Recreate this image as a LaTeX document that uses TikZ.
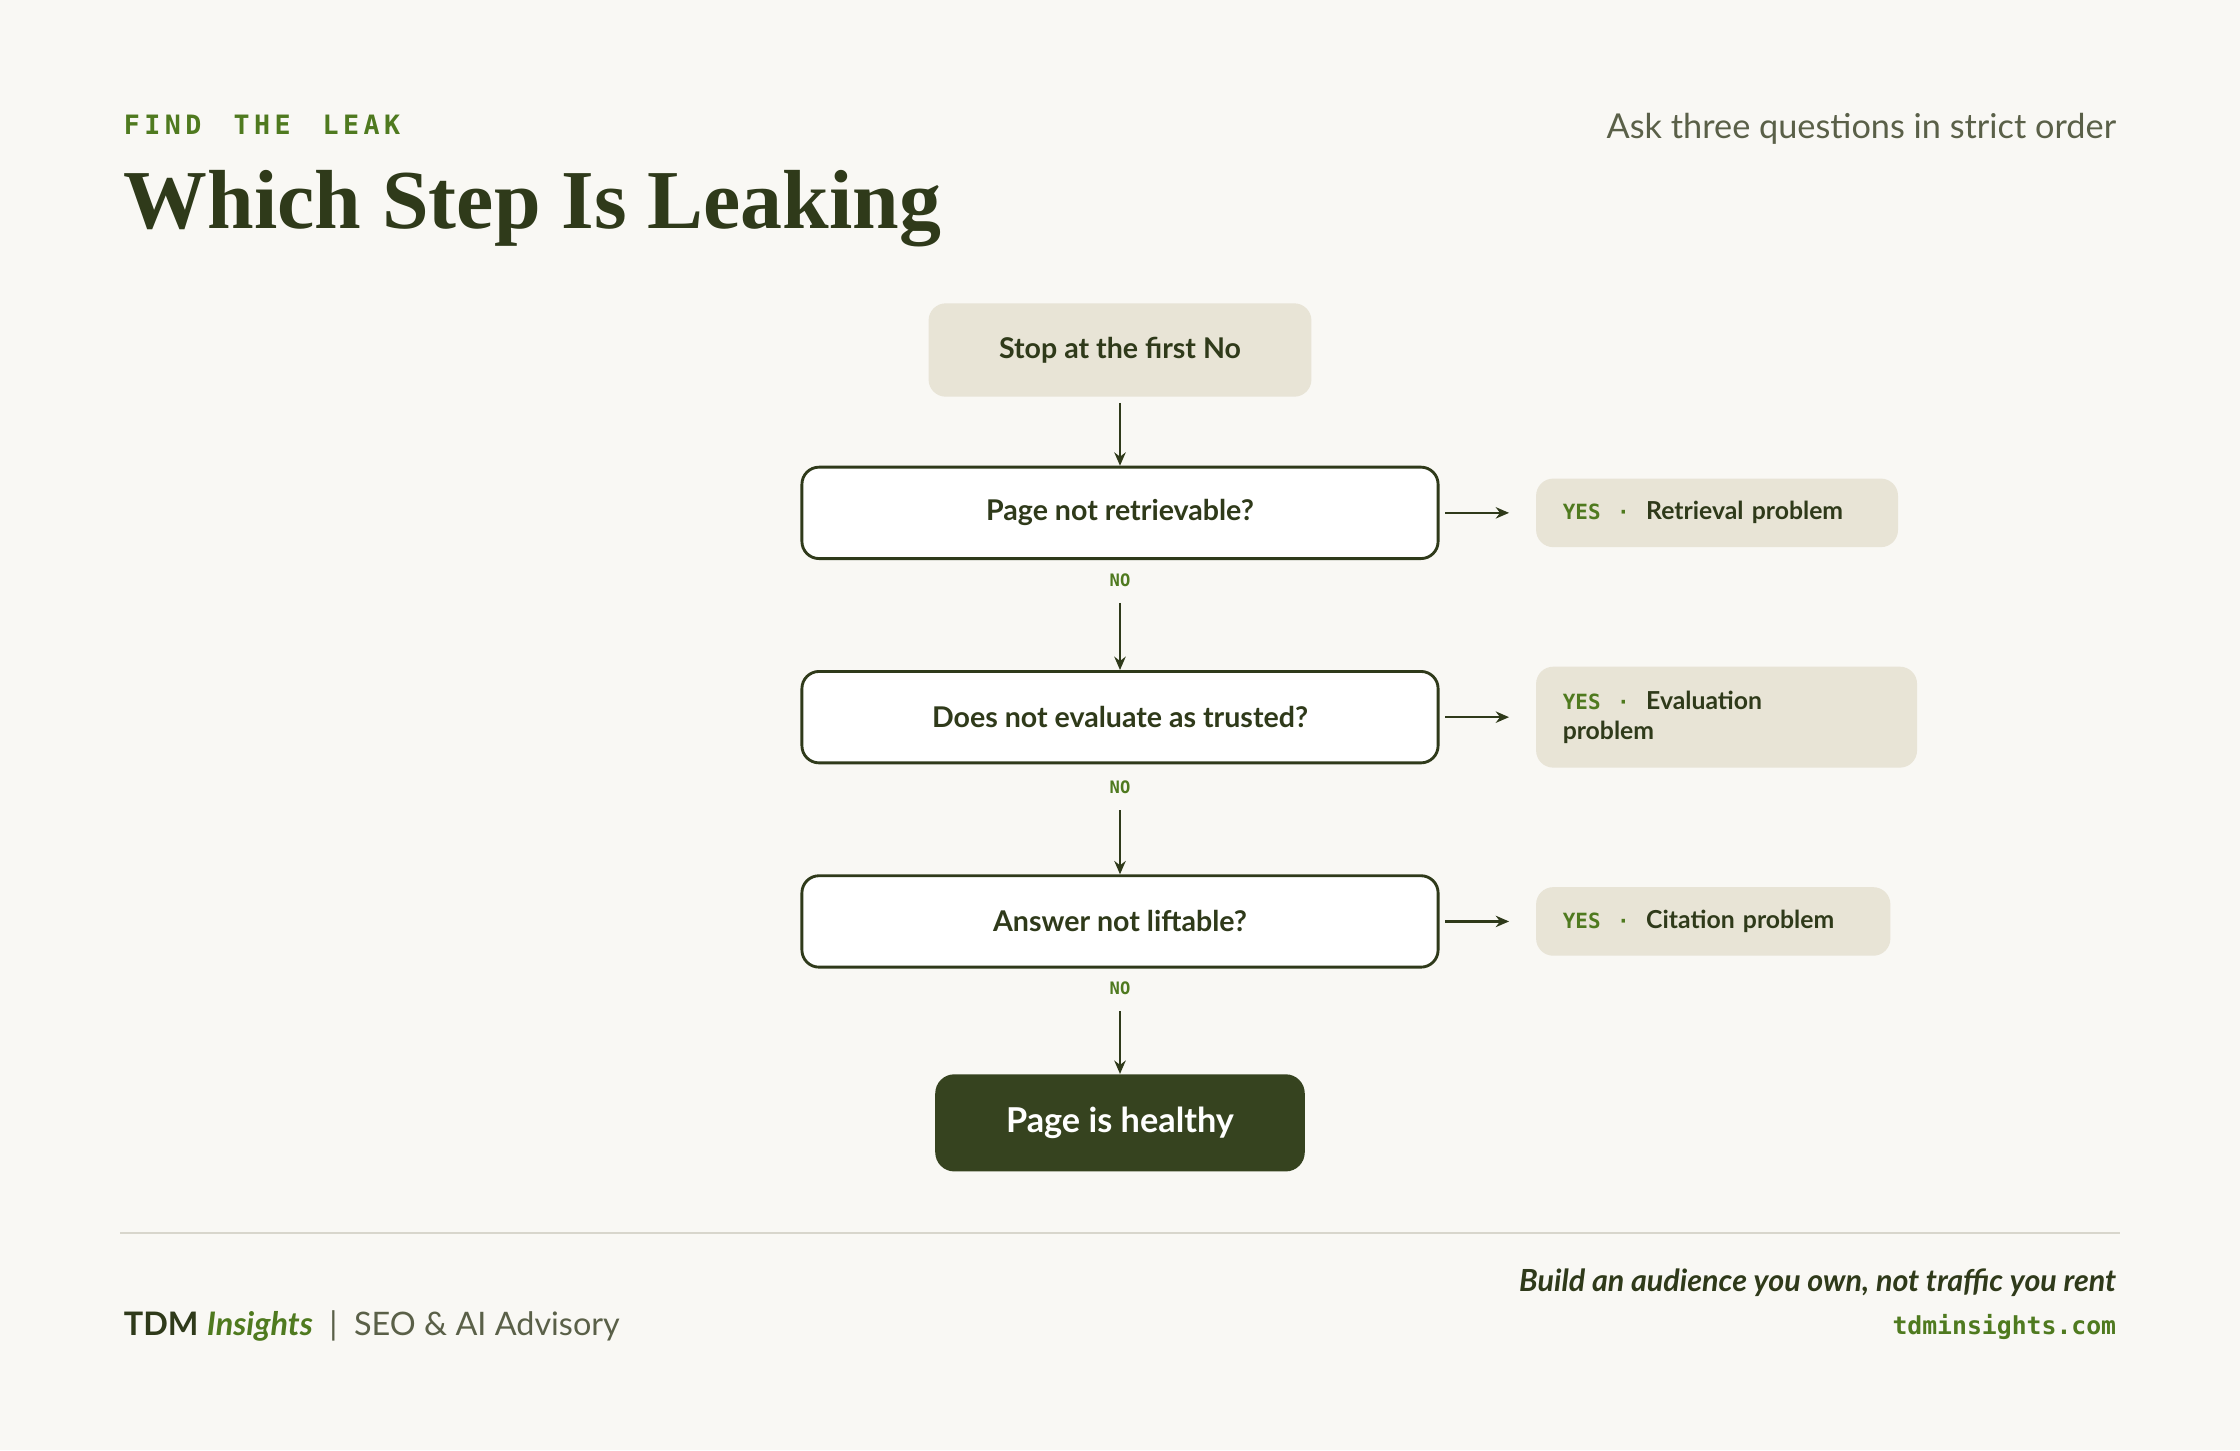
\documentclass[tikz,border=0pt]{standalone}
\usepackage{fontspec}
\setmainfont{Lato}
\newfontfamily\ser{Liberation Serif}
\newfontfamily\mon{DejaVu Sans Mono}
\usetikzlibrary{arrows.meta}
\definecolor{bg}{HTML}{F9F8F4}
\definecolor{dk}{HTML}{2F3A1A}
\definecolor{gr}{HTML}{4F7A1F}
\definecolor{sand}{HTML}{E8E4D6}
\definecolor{mut}{HTML}{5A6048}
\definecolor{fin}{HTML}{36431F}
\definecolor{rule}{HTML}{D8D6CC}
\begin{document}
\begin{tikzpicture}[x=0.75pt,y=-0.75pt,
  q/.style={draw=dk,line width=1.5pt,fill=white,rounded corners=9pt,minimum width=334pt,minimum height=48pt,font=\fontsize{15}{18}\selectfont\bfseries,text=dk},
  res/.style={fill=sand,rounded corners=9pt,anchor=west,inner xsep=14pt,font=\fontsize{13}{16}\selectfont\bfseries,text=dk,align=left},
  no/.style={font=\mon\bfseries\fontsize{9}{10}\selectfont,text=gr},
  arr/.style={-{Stealth[length=7pt,width=6pt]},line width=1.3pt,draw=dk},
  yes/.style={}]
\fill[bg] (0,0) rectangle (1568,1015);
\node[anchor=west,text=gr,font=\mon\bfseries\fontsize{14}{16}\selectfont] (kick) at (82,87) {F\,I\,N\,D\ \ T\,H\,E\ \ L\,E\,A\,K};
\node[anchor=base west,text=dk,font=\ser\bfseries\fontsize{44}{50}\selectfont] (title) at (82,160) {Which Step Is Leaking};
\node[anchor=east,text=mut,font=\fontsize{18}{20}\selectfont] (sub) at (1486,90) {Ask three questions in strict order};
\node[fill=sand,rounded corners=9pt,minimum width=201pt,minimum height=49pt,font=\fontsize{15}{18}\selectfont\bfseries,text=dk] (s) at (784,245) {Stop at the first No};
\node[q] (q1) at (784,359) {Page not retrievable?};
\node[q] (q2) at (784,502) {Does not evaluate as trusted?};
\node[q] (q3) at (784,645) {Answer not liftable?};
\node[fill=fin,rounded corners=10pt,minimum width=194pt,minimum height=51pt,font=\fontsize{18}{20}\selectfont\bfseries,text=white] (h) at (784,786) {Page is healthy};
\node[no] (n1) at (784,406) {NO};
\node[no] (n2) at (784,551) {NO};
\node[no] (n3) at (784,692) {NO};
\coordinate (a1) at (784,422);\coordinate (a2) at (784,567);\coordinate (a3) at (784,708);
\draw[arr] (784,282) -- (q1.north);
\draw[arr] (a1) -- (q2.north);
\draw[arr] (a2) -- (q3.north);
\draw[arr] (a3) -- (h.north);
\newcommand\yy{{\mon\color{gr}\fontsize{11}{16}\selectfont YES\ \ \textperiodcentered\ \ }}
\node[res,minimum height=36pt,text width=162pt] (r1) at (1075,359) {\yy Retrieval problem};
\node[res,minimum height=53pt,text width=172pt] (r2) at (1075,502) {\yy Evaluation\\problem};
\node[res,minimum height=36pt,text width=158pt] (r3) at (1075,645) {\yy Citation problem};
\draw[arr] ([xshift=3pt]q1.east) -- ([xshift=-14pt]r1.west);
\draw[arr] ([xshift=3pt]q2.east) -- ([xshift=-14pt]r2.west);
\draw[arr] ([xshift=3pt]q3.east) -- ([xshift=-14pt]r3.west);
\draw[rule,line width=1pt] (84,863) -- (1484,863);
\node[anchor=west,font=\fontsize{17}{20}\selectfont,text=mut] (brand) at (82,928) {{\bfseries\color{dk}TDM} {\itshape\bfseries\color{gr}Insights}\ \ |\ \ SEO \& AI Advisory};
\node[anchor=east,font=\fontsize{16}{20}\selectfont\itshape\bfseries,text=dk] (tag) at (1486,898) {Build an audience you own, not traffic you rent};
\node[anchor=east,font=\mon\bfseries\fontsize{13}{16}\selectfont,text=gr] (url) at (1486,929) {tdminsights.com};
\end{tikzpicture}
\end{document}
